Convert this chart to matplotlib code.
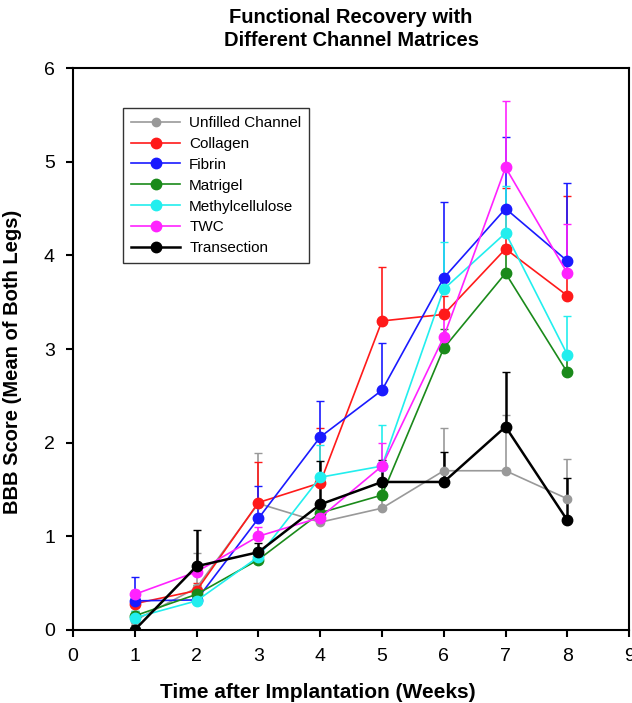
#!/usr/bin/env python3
import matplotlib
matplotlib.use("Agg")
import matplotlib.pyplot as plt
from matplotlib.lines import Line2D

plt.rcParams["font.family"] = ["Liberation Sans", "DejaVu Sans"]

weeks = [1, 2, 3, 4, 5, 6, 7, 8]

labels = ["Unfilled Channel", "Collagen", "Fibrin", "Matrigel",
          "Methylcellulose", "TWC", "Transection"]
colors = ["#999999", "#ff1a1a", "#1a1aff", "#1a8a1a", "#22eeee", "#ff22ff", "#000000"]

unfilled = [0.10, 0.45, 1.35, 1.15, 1.30, 1.70, 1.70, 1.40]
unfilled_err = [0.0, 0.37, 0.54, 0.10, 0.10, 0.46, 0.60, 0.43]
collagen = [0.28, 0.42, 1.36, 1.57, 3.30, 3.37, 4.07, 3.57]
collagen_err = [0.05, 0.08, 0.43, 0.59, 0.58, 0.20, 0.65, 1.07]
fibrin = [0.31, 0.32, 1.19, 2.06, 2.56, 3.76, 4.50, 3.94]
fibrin_err = [0.25, 0.05, 0.35, 0.39, 0.50, 0.81, 0.76, 0.83]
matrigel = [0.15, 0.38, 0.75, 1.25, 1.44, 3.01, 3.81, 2.75]
matrigel_err = [0.05, 0.10, 0.10, 0.10, 0.10, 0.20, 0.30, 0.20]
methyl = [0.13, 0.31, 0.78, 1.63, 1.75, 3.64, 4.24, 2.94]
methyl_err = [0.07, 0.05, 0.10, 0.34, 0.44, 0.50, 0.50, 0.41]
twc = [0.38, 0.62, 1.00, 1.20, 1.75, 3.13, 4.94, 3.81]
twc_err = [0.05, 0.05, 0.10, 0.10, 0.25, 0.30, 0.71, 0.53]
transection = [0.00, 0.68, 0.83, 1.34, 1.58, 1.58, 2.17, 1.17]
transection_err = [0.05, 0.39, 0.10, 0.46, 0.23, 0.32, 0.58, 0.45]

series = [unfilled, collagen, fibrin, matrigel, methyl, twc, transection]
errors = [unfilled_err, collagen_err, fibrin_err, matrigel_err, methyl_err,
          twc_err, transection_err]

fig = plt.figure(figsize=(6.32, 7.03), dpi=100)
ax = fig.add_axes([0.1155, 0.104, 0.880, 0.799])

handles = []
for name, vals, errs, col in zip(labels, series, errors, colors):
    lw = 1.8 if col == "#000000" else 1.2
    ms = 6 if col == "#999999" else 7.5
    ax.errorbar(weeks, vals, yerr=[[0] * len(errs), errs], color=col,
                marker="o", markersize=ms, linewidth=lw, elinewidth=lw,
                capsize=3, capthick=1.0)
    handles.append(Line2D([], [], color=col, marker="o", markersize=ms,
                          linewidth=lw, label=name))

ax.set_xlim(0, 9)
ax.set_ylim(0, 6)
ax.set_xticks(range(0, 10))
ax.set_yticks(range(0, 7))
ax.tick_params(axis="both", labelsize=14, direction="out", length=5, width=1.5, pad=8)
for side in ["left", "bottom", "top", "right"]:
    ax.spines[side].set_linewidth(1.5)

ax.set_xlabel("Time after Implantation (Weeks)", fontsize=15, fontweight="bold")
ax.xaxis.set_label_coords(0.44, -0.095)
ax.set_ylabel("BBB Score (Mean of Both Legs)", fontsize=14.5, fontweight="bold")
ax.yaxis.set_label_coords(-0.092, 0.477)
ax.set_title("Functional Recovery with\nDifferent Channel Matrices",
             fontsize=14.5, fontweight="bold", pad=16, linespacing=1.25)

leg = ax.legend(handles=handles, loc="upper left", bbox_to_anchor=(0.077, 0.942),
                fontsize=11, frameon=True, fancybox=False, edgecolor="black",
                borderpad=0.5, labelspacing=0.45, handlelength=3.2, handletextpad=0.6)
leg.get_frame().set_linewidth(1.0)

fig.savefig("out.png", dpi=100)
